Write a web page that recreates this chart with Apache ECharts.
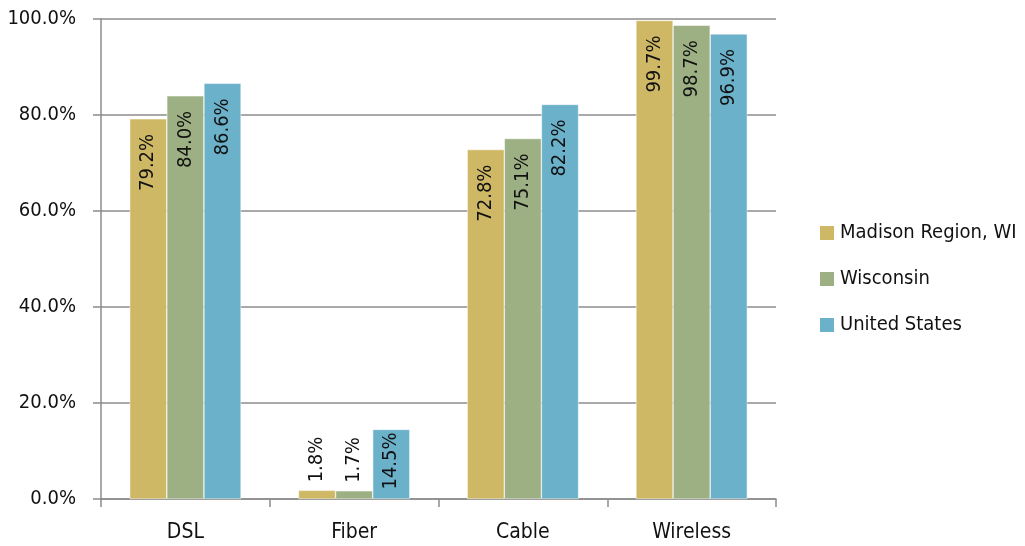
<!DOCTYPE html>
<html><head><meta charset="utf-8">
<script src="https://cdn.jsdelivr.net/npm/echarts@6/dist/echarts.min.js"></script>
<style>html,body{margin:0;padding:0;background:#fff}#c{width:1025px;height:546px}</style>
</head><body><div id="c"></div>
<script>
var categories = ['DSL', 'Fiber', 'Cable', 'Wireless'];
var seriesNames = ['Madison Region, WI', 'Wisconsin', 'United States'];
var madison = [79.2, 1.8, 72.8, 99.7];
var wisconsin = [84.0, 1.7, 75.1, 98.7];
var unitedStates = [86.6, 14.5, 82.2, 96.9];
var yTicks = [0, 20, 40, 60, 80, 100];
var colors = ['#CFB865', '#9DB083', '#6BB1CA'];
var FONT = '"DejaVu Sans Condensed", "Liberation Sans Narrow", sans-serif';

function mkData(arr) {
  return arr.map(function (v) {
    if (v < 10) {
      return { value: v, label: { position: 'top', align: 'left', distance: 8 } };
    }
    if (v < 20) {
      return { value: v, label: { distance: 3 } };
    }
    return v;
  });
}
function mkSeries(name, arr, i) {
  return {
    name: name, type: 'bar', data: mkData(arr),
    itemStyle: { color: colors[i], borderColor: '#fff', borderWidth: 0.5 },
    barGap: '0%', barCategoryGap: '34%',
    label: {
      show: true, rotate: 90, position: 'insideTop', align: 'right', verticalAlign: 'middle',
      distance: 15, fontFamily: FONT, fontSize: 20, color: '#111',
      formatter: function (p) { return p.value.toFixed(1) + '%'; }
    }
  };
}
var chart = echarts.init(document.getElementById('c'));
chart.setOption({
  animation: false,
  grid: { left: 101, right: 249, top: 19, bottom: 47, containLabel: false },
  legend: {
    orient: 'vertical', left: 818, top: 223, padding: 0, itemWidth: 16, itemHeight: 16, itemGap: 26,
    icon: 'rect',
    textStyle: { fontFamily: FONT, fontSize: 20, color: '#111' },
    data: seriesNames
  },
  xAxis: {
    type: 'category', data: categories,
    axisLine: { lineStyle: { color: '#8c8c8c', width: 1.5 } },
    axisTick: { show: true, length: 8, lineStyle: { color: '#8c8c8c', width: 1.5 } },
    axisLabel: { fontFamily: FONT, fontSize: 21, color: '#111', margin: 23 }
  },
  yAxis: {
    type: 'value', min: 0, max: 100, interval: 20,
    axisLine: { show: true, lineStyle: { color: '#8c8c8c', width: 1.5 } },
    axisTick: { show: true, length: 8, lineStyle: { color: '#8c8c8c', width: 1.5 } },
    splitLine: { lineStyle: { color: '#8c8c8c', width: 1.5 } },
    axisLabel: { fontFamily: FONT, fontSize: 20, color: '#111', margin: 25,
      formatter: function (v) { return yTicks.indexOf(v) >= 0 ? v.toFixed(1) + '%' : ''; } }
  },
  series: [
    mkSeries(seriesNames[0], madison, 0),
    mkSeries(seriesNames[1], wisconsin, 1),
    mkSeries(seriesNames[2], unitedStates, 2)
  ]
});
</script></body></html>
